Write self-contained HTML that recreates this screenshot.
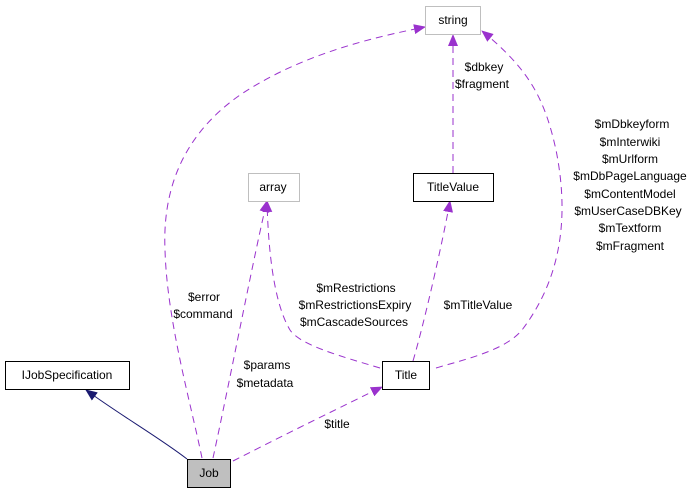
<!DOCTYPE html>
<html><head><meta charset="utf-8"><style>
html,body{margin:0;padding:0;background:#fff;}
svg text{font-family:"Liberation Sans",sans-serif;font-size:12px;fill:#000;}
</style></head><body>
<svg width="693" height="493" viewBox="0 0 693 493" xmlns="http://www.w3.org/2000/svg">
<defs>
<marker id="pa" markerWidth="12" markerHeight="10" refX="11" refY="5" orient="auto" markerUnits="userSpaceOnUse">
<path d="M0,0 L12,5 L0,10 z" fill="#9a32cd"/></marker>
<marker id="na" markerWidth="12" markerHeight="10" refX="11" refY="5" orient="auto" markerUnits="userSpaceOnUse">
<path d="M0,0 L12,5 L0,10 z" fill="#191970"/></marker>
</defs>
<g fill="none" stroke="#9a32cd" stroke-width="1" stroke-dasharray="7,5">
<path d="M202,458 C190,400 167,320 165,250 C162,180 190,130 240,95 C300,55 370,38 425,27" marker-end="url(#pa)"/>
<path d="M213,458 C230,380 255,250 267,201" marker-end="url(#pa)"/>
<path d="M233,461 C290,432 345,405 382,387" marker-end="url(#pa)"/>
<path d="M380,368 C340,356 300,345 290,330 C272,300 268,240 267,201" marker-end="url(#pa)"/>
<path d="M413,361 C425,320 443,240 450,201" marker-end="url(#pa)"/>
<path d="M453,173 L453,35" marker-end="url(#pa)"/>
<path d="M436,368 C470,358 505,350 522,330 C560,280 570,220 556,150 C545,100 530,70 482,31" marker-end="url(#pa)"/>
</g>
<path d="M187,459 C160,438 120,415 86,390" fill="none" stroke="#191970" stroke-width="1" marker-end="url(#na)"/>
<g stroke-width="1">
<rect x="425.5" y="6.5" width="55" height="28" fill="#fff" stroke="#bfbfbf"/>
<rect x="248.5" y="173.5" width="51" height="28" fill="#fff" stroke="#bfbfbf"/>
<rect x="413.5" y="173.5" width="80" height="28" fill="#fff" stroke="#000"/>
<rect x="5.5" y="361.5" width="124" height="28" fill="#fff" stroke="#000"/>
<rect x="382.5" y="361.5" width="47" height="28" fill="#fff" stroke="#000"/>
<rect x="187.5" y="459.5" width="43" height="28" fill="#bfbfbf" stroke="#000"/>
</g>
<g text-anchor="middle">
<text x="453" y="24">string</text>
<text x="273" y="191">array</text>
<text x="453" y="191">TitleValue</text>
<text x="67" y="379">IJobSpecification</text>
<text x="406" y="379">Title</text>
<text x="209" y="477">Job</text>
<text x="484" y="71">$dbkey</text>
<text x="482" y="88">$fragment</text>
<text x="632" y="128">$mDbkeyform</text>
<text x="630" y="146">$mInterwiki</text>
<text x="630" y="163">$mUrlform</text>
<text x="630" y="180">$mDbPageLanguage</text>
<text x="630" y="198">$mContentModel</text>
<text x="628" y="215">$mUserCaseDBKey</text>
<text x="630" y="232">$mTextform</text>
<text x="630" y="250">$mFragment</text>
<text x="356" y="292">$mRestrictions</text>
<text x="355" y="309">$mRestrictionsExpiry</text>
<text x="354" y="326">$mCascadeSources</text>
<text x="478" y="309">$mTitleValue</text>
<text x="204" y="301">$error</text>
<text x="203" y="318">$command</text>
<text x="267" y="369">$params</text>
<text x="265" y="387">$metadata</text>
<text x="337" y="428">$title</text>
</g>
</svg>
</body></html>
